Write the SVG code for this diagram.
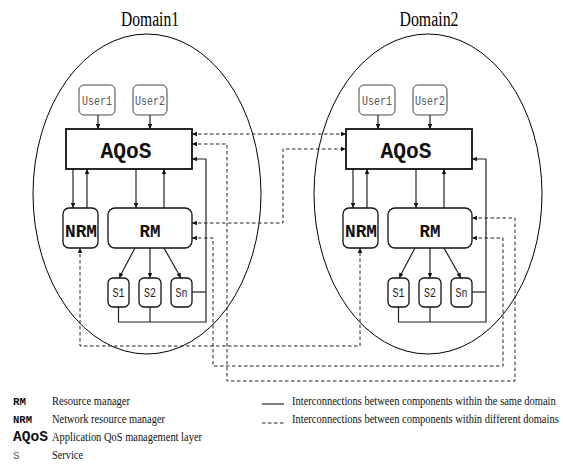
<svg xmlns="http://www.w3.org/2000/svg" width="563" height="466" viewBox="0 0 563 466">
  <style>
    .bg { fill: #ffffff; }
    .domain { fill: none; stroke: #000; stroke-width: 1; }
    .title { font-family: "Liberation Serif", "Times New Roman", serif; font-size: 20px; fill: #000; text-anchor: middle; }
    .user { fill: #fff; stroke: #444; stroke-width: 1; }
    .userTxt { font-family: "Liberation Mono", "Courier New", monospace; font-size: 12px; fill: #555; text-anchor: middle; }
    .box { fill: #fff; stroke: #111; stroke-width: 1.3; }
    .aqos { fill: #fff; stroke: #111; stroke-width: 1.8; }
    .big { font-family: "Liberation Mono", "Courier New", monospace; font-weight: bold; fill: #111; text-anchor: middle; }
    .svc { font-family: "Liberation Mono", "Courier New", monospace; font-size: 12px; fill: #222; text-anchor: middle; }
    .solid { fill: none; stroke: #222; stroke-width: 1.2; }
    .dash { fill: none; stroke: #222; stroke-width: 1; stroke-dasharray: 3.5 2.5; }
    .legCode { font-family: "Liberation Mono", "Courier New", monospace; font-weight: bold; fill: #111; }
    .legTxt { font-family: "Liberation Serif", "Times New Roman", serif; font-size: 13px; fill: #111; }
    .legWide { font-family: "Liberation Serif", "Times New Roman", serif; font-size: 10.5px; fill: #111; }
  </style>
  <defs>
    <marker id="ah" viewBox="0 0 10 10" refX="10" refY="5" markerWidth="6" markerHeight="5" markerUnits="userSpaceOnUse" orient="auto-start-reverse">
      <path d="M0,0.5 L10,5 L0,9.5 z" fill="#111"/>
    </marker>
    <ellipse id="domainShape" cx="147" cy="194" rx="114" ry="160"/>
  </defs>

  <rect class="bg" x="0" y="0" width="563" height="466"/>

  <!-- domain outlines and titles -->
  <g id="domain1">
    <use href="#domainShape" class="domain"/>
    <text class="title" x="150" y="26" textLength="58" lengthAdjust="spacingAndGlyphs">Domain1</text>
  </g>
  <g id="domain2">
    <use href="#domainShape" class="domain" transform="translate(281,0)"/>
    <text class="title" x="429" y="26" textLength="59" lengthAdjust="spacingAndGlyphs">Domain2</text>
  </g>

  <!-- connectors -->
  <g id="connectors">
    <!-- links inside Domain1 -->
    <g id="d1-links" class="intra">
      <path class="solid" d="M98,115 V129" marker-end="url(#ah)"/>
      <path class="solid" d="M150,115 V129" marker-end="url(#ah)"/>
      <path class="solid" d="M73,169 V208" marker-end="url(#ah)"/>
      <path class="solid" d="M87,208 V169" marker-end="url(#ah)"/>
      <path class="solid" d="M136,169 V208" marker-end="url(#ah)"/>
      <path class="solid" d="M164,208 V169" marker-end="url(#ah)"/>
      <path class="solid" d="M135,248 L119,278" marker-end="url(#ah)"/>
      <path class="solid" d="M150,248 V278" marker-end="url(#ah)"/>
      <path class="solid" d="M164,248 L181,278" marker-end="url(#ah)"/>
      <path class="solid" d="M118.5,307 V322 H206 V159 H192" marker-end="url(#ah)"/>
      <path class="solid" d="M150,307 V322"/>
      <path class="solid" d="M192,292 H206"/>
    </g>
    <!-- links inside Domain2 (same layout, shifted) -->
    <g id="d2-links" class="intra" transform="translate(280,0)">
      <path class="solid" d="M98,115 V129" marker-end="url(#ah)"/>
      <path class="solid" d="M150,115 V129" marker-end="url(#ah)"/>
      <path class="solid" d="M73,169 V208" marker-end="url(#ah)"/>
      <path class="solid" d="M87,208 V169" marker-end="url(#ah)"/>
      <path class="solid" d="M136,169 V208" marker-end="url(#ah)"/>
      <path class="solid" d="M164,208 V169" marker-end="url(#ah)"/>
      <path class="solid" d="M135,248 L119,278" marker-end="url(#ah)"/>
      <path class="solid" d="M150,248 V278" marker-end="url(#ah)"/>
      <path class="solid" d="M164,248 L181,278" marker-end="url(#ah)"/>
      <path class="solid" d="M118.5,307 V322 H206 V159 H192" marker-end="url(#ah)"/>
      <path class="solid" d="M150,307 V322"/>
      <path class="solid" d="M192,292 H206"/>
    </g>
    <!-- links between the two domains -->
    <g id="inter-links">
      <path class="dash" d="M192,134 H346" marker-start="url(#ah)" marker-end="url(#ah)"/>
      <path class="dash" d="M192,144 H227 V381 H515 V218 H472" marker-start="url(#ah)" marker-end="url(#ah)"/>
      <path class="dash" d="M192,223 H283 V149 H346" marker-start="url(#ah)" marker-end="url(#ah)"/>
      <path class="dash" d="M192,238 H213 V366 H503 V238 H472" marker-start="url(#ah)" marker-end="url(#ah)"/>
      <path class="dash" d="M80,248 V346 H360 V248" marker-start="url(#ah)" marker-end="url(#ah)"/>
    </g>
  </g>

  <!-- Domain1 nodes -->
  <g id="d1-user1"><rect class="user" x="79" y="85" width="36" height="30" rx="5"/><text class="userTxt" x="97" y="105" textLength="30" lengthAdjust="spacingAndGlyphs">User1</text></g>
  <g id="d1-user2"><rect class="user" x="133" y="85" width="34" height="30" rx="5"/><text class="userTxt" x="150" y="105" textLength="30" lengthAdjust="spacingAndGlyphs">User2</text></g>
  <g id="d1-aqos"><rect class="aqos" x="66" y="129" width="126" height="40"/><text class="big" x="126" y="158" font-size="22" textLength="51" lengthAdjust="spacingAndGlyphs">AQoS</text></g>
  <g id="d1-nrm"><rect class="box" x="63" y="208" width="35" height="40" rx="6"/><text class="big" x="81" y="237" font-size="18" textLength="32" lengthAdjust="spacingAndGlyphs">NRM</text></g>
  <g id="d1-rm"><rect class="box" x="108" y="208" width="84" height="40" rx="7"/><text class="big" x="150" y="237" font-size="18" textLength="21" lengthAdjust="spacingAndGlyphs">RM</text></g>
  <g id="d1-s1"><rect class="box" x="108" y="278" width="21" height="29" rx="5"/><text class="svc" x="118.5" y="297" textLength="12" lengthAdjust="spacingAndGlyphs">S1</text></g>
  <g id="d1-s2"><rect class="box" x="139" y="278" width="22" height="29" rx="5"/><text class="svc" x="150" y="297" textLength="12" lengthAdjust="spacingAndGlyphs">S2</text></g>
  <g id="d1-sn"><rect class="box" x="171" y="278" width="21" height="29" rx="5"/><text class="svc" x="181.5" y="297" textLength="12" lengthAdjust="spacingAndGlyphs">Sn</text></g>

  <!-- Domain2 nodes -->
  <g id="d2-user1"><rect class="user" x="359" y="85" width="36" height="30" rx="5"/><text class="userTxt" x="377" y="105" textLength="30" lengthAdjust="spacingAndGlyphs">User1</text></g>
  <g id="d2-user2"><rect class="user" x="413" y="85" width="34" height="30" rx="5"/><text class="userTxt" x="430" y="105" textLength="30" lengthAdjust="spacingAndGlyphs">User2</text></g>
  <g id="d2-aqos"><rect class="aqos" x="346" y="129" width="126" height="40"/><text class="big" x="406" y="158" font-size="22" textLength="51" lengthAdjust="spacingAndGlyphs">AQoS</text></g>
  <g id="d2-nrm"><rect class="box" x="343" y="208" width="35" height="40" rx="6"/><text class="big" x="361" y="237" font-size="18" textLength="32" lengthAdjust="spacingAndGlyphs">NRM</text></g>
  <g id="d2-rm"><rect class="box" x="388" y="208" width="84" height="40" rx="7"/><text class="big" x="430" y="237" font-size="18" textLength="21" lengthAdjust="spacingAndGlyphs">RM</text></g>
  <g id="d2-s1"><rect class="box" x="388" y="278" width="21" height="29" rx="5"/><text class="svc" x="398.5" y="297" textLength="12" lengthAdjust="spacingAndGlyphs">S1</text></g>
  <g id="d2-s2"><rect class="box" x="419" y="278" width="22" height="29" rx="5"/><text class="svc" x="430" y="297" textLength="12" lengthAdjust="spacingAndGlyphs">S2</text></g>
  <g id="d2-sn"><rect class="box" x="451" y="278" width="21" height="29" rx="5"/><text class="svc" x="461.5" y="297" textLength="12" lengthAdjust="spacingAndGlyphs">Sn</text></g>

  <!-- legend -->
  <g id="legend">
    <text class="legCode" x="13" y="405" font-size="10" textLength="13" lengthAdjust="spacingAndGlyphs">RM</text>
    <text class="legTxt" x="52" y="405" textLength="78" lengthAdjust="spacingAndGlyphs">Resource manager</text>
    <text class="legCode" x="13" y="423" font-size="10" textLength="19" lengthAdjust="spacingAndGlyphs">NRM</text>
    <text class="legTxt" x="52" y="423" textLength="113" lengthAdjust="spacingAndGlyphs">Network resource manager</text>
    <text class="legCode" x="13" y="441" font-size="15" textLength="35" lengthAdjust="spacingAndGlyphs">AQoS</text>
    <text class="legTxt" x="52" y="441" textLength="150" lengthAdjust="spacingAndGlyphs">Application QoS management layer</text>
    <text x="13" y="459" font-family="Liberation Mono, Courier New, monospace" font-size="11" fill="#555">S</text>
    <text class="legTxt" x="52" y="459" textLength="31" lengthAdjust="spacingAndGlyphs">Service</text>

    <path class="solid" d="M262,404 H284" stroke-width="1"/>
    <text class="legWide" transform="translate(292,405) scale(1,1.2)">Interconnections between components within the same domain</text>
    <path class="dash" d="M262,423 H284" stroke-dasharray="3 2"/>
    <text class="legWide" transform="translate(292,423) scale(1,1.2)">Interconnections between components within different domains</text>
  </g>
</svg>
